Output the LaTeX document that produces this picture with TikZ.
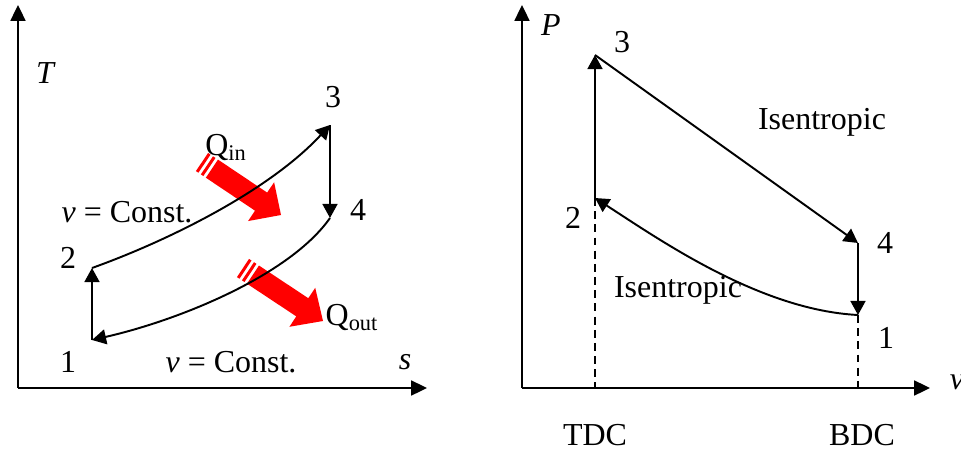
\documentclass[tikz,border=0pt]{standalone}
\usepackage{fontspec}
\setmainfont{Liberation Serif}
\usetikzlibrary{arrows.meta,calc}
\tikzset{
  axis/.style={line width=1.1pt,-{Triangle[length=9pt,width=8.5pt]}},
  proc/.style={line width=1.1pt,-{Triangle[length=8pt,width=8.5pt]}},
  lbl/.style={font=\fontsize{18.2}{22}\selectfont,inner sep=0pt},
  drop/.style={line width=1.1pt,dash pattern=on 4.5pt off 3pt},
}

\begin{document}
\begin{tikzpicture}[x=0.02cm,y=-0.02cm]
\useasboundingbox (0,0) rectangle (961,450);
% T-s diagram
\coordinate (To) at (18,388);
\coordinate (Tt) at (18,5);
\coordinate (Ts) at (427,388);
\coordinate (L1) at (92,340);
\coordinate (L2) at (92,268);
\coordinate (L3) at (330,125);
\coordinate (L4) at (330,218);
\draw[axis] (To)--(Tt);
\draw[axis] (To)--(Ts);
% heat flows
\coordinate (qia) at (202,162);
\coordinate (qib) at (281,215);
\coordinate (qoa) at (243,268);
\coordinate (qob) at (323,321);
\foreach \a/\b in {qia/qib,qoa/qob}{
  \coordinate (s1) at ($(\a)!1.7pt!(\b)$);
  \coordinate (s2) at ($(\a)!3.4pt!(\b)$);
  \coordinate (s3) at ($(\a)!5.1pt!(\b)$);
  \coordinate (m0) at ($(\a)!6.8pt!(\b)$);
  \coordinate (nk) at ($(\a)!40.5pt!(\b)$);
  \fill[red] ($(\a)!6.2pt!90:(\b)$) -- ($(s1)!6.2pt!90:(\b)$) -- ($(s1)!6.2pt!-90:(\b)$) -- ($(\a)!6.2pt!-90:(\b)$) -- cycle;
  \fill[red] ($(s2)!6.2pt!90:(\b)$) -- ($(s3)!6.2pt!90:(\b)$) -- ($(s3)!6.2pt!-90:(\b)$) -- ($(s2)!6.2pt!-90:(\b)$) -- cycle;
  \fill[red] ($(m0)!6.2pt!90:(\b)$) -- ($(nk)!6.2pt!90:(\b)$) -- ($(nk)!13.3pt!90:(\b)$) -- (\b)
    -- ($(nk)!13.3pt!-90:(\b)$) -- ($(nk)!6.2pt!-90:(\b)$) -- ($(m0)!6.2pt!-90:(\b)$) -- cycle;
}
\draw[proc] (L1)--(L2);
\draw[proc] (L2) .. controls (170,240) and (270,190) .. (L3);
\draw[proc] (L3)--(L4);
\draw[proc] (L4) .. controls (290,275) and (180,320) .. (L1);
\node[lbl] (tT) at (46,73) {\textit{T}};
\node[lbl] (ts) at (405,362) {\textit{s}};
\node[lbl] (t1) at (68,362) {1};
\node[lbl] (t2) at (68,258) {2};
\node[lbl] (t3) at (333,97) {3};
\node[lbl] (t4) at (358,210) {4};
\node[lbl] (tvu) at (127,212) {\textit{v} = Const.};
\node[lbl] (tvl) at (231,362) {\textit{v} = Const.};
\node[lbl] (tqi) at (226,148) {Q\textsubscript{in}};
\node[lbl] (tqo) at (352,318) {Q\textsubscript{out}};
% P-v diagram
\coordinate (Po) at (522,388);
\coordinate (Pt) at (522,5);
\coordinate (Pv) at (930,388);
\coordinate (R1) at (858,315);
\coordinate (R2) at (595,198);
\coordinate (R3) at (595,55);
\coordinate (R4) at (858,243);
\coordinate (RT) at (595,388);
\coordinate (RB) at (858,388);
\draw[axis] (Po)--(Pt);
\draw[axis] (Po)--(Pv);
\draw[proc] (R2)--(R3);
\draw[proc] (R3)--(R4);
\draw[proc] (R4)--(R1);
\draw[proc] (R1) .. controls (760,310) and (660,240) .. (R2);
\draw[drop] (R2)--(RT);
\draw[drop] (R1)--(RB);
\node[lbl] (tP) at (551,25) {\textit{P}};
\node[lbl] (tv) at (957,382) {\textit{v}};
\node[lbl] (r1) at (886,338) {1};
\node[lbl] (r2) at (573,218) {2};
\node[lbl] (r3) at (622,42) {3};
\node[lbl] (r4) at (885,243) {4};
\node[lbl] (ri1) at (822,122) {Isentropic};
\node[lbl] (ri2) at (678,290) {Isentropic};
\node[lbl] (tdc) at (595,435) {TDC};
\node[lbl] (bdc) at (862,435) {BDC};
\end{tikzpicture}
\end{document}
